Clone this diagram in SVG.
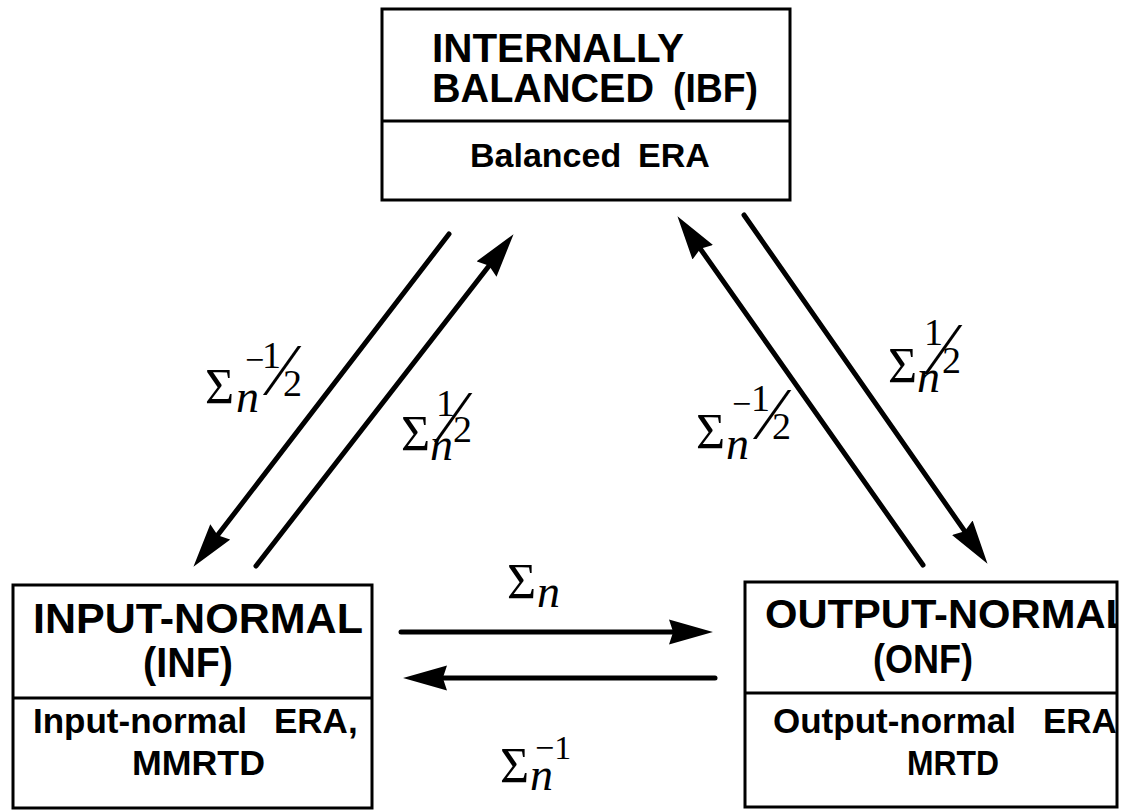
<svg xmlns="http://www.w3.org/2000/svg" width="1130" height="811" viewBox="0 0 1130 811">
<style>
.box{fill:#fff;stroke:#000;stroke-width:3}
.div{stroke:#000;stroke-width:3}
.h{font-family:"Liberation Sans",Arial,sans-serif;font-weight:bold;fill:#000}
.m{font-family:"Liberation Serif","Times New Roman",serif;fill:#000}
.it{font-style:italic}
.conn{stroke:#000;stroke-width:5;fill:none;stroke-linecap:round}
</style>
<defs>
<marker id="ah" markerUnits="userSpaceOnUse" markerWidth="44" markerHeight="26" viewBox="0 0 42 24" refX="22" refY="12" orient="auto">
<path d="M0,0 L42,12 L0,24 L4,12 z" fill="#000"/>
</marker>
<clipPath id="onfclip"><rect x="745" y="582" width="371" height="225"/></clipPath>
</defs>

<g id="ibf">
<rect class="box" x="382" y="9" width="408" height="191"/>
<line class="div" x1="382" y1="121" x2="790" y2="121"/>
<text class="h" font-size="40" x="432" y="62" textLength="252" lengthAdjust="spacingAndGlyphs">INTERNALLY</text>
<text class="h" font-size="40" y="102"><tspan x="432" textLength="222" lengthAdjust="spacingAndGlyphs">BALANCED</tspan><tspan x="673" textLength="85" lengthAdjust="spacingAndGlyphs">(IBF)</tspan></text>
<text class="h" font-size="34" y="167"><tspan x="470">Balanced</tspan><tspan x="638">ERA</tspan></text>
</g>

<g id="inf">
<rect class="box" x="13" y="585" width="359" height="223"/>
<line class="div" x1="13" y1="698" x2="372" y2="698"/>
<text class="h" font-size="42" x="33" y="633" textLength="330" lengthAdjust="spacingAndGlyphs">INPUT-NORMAL</text>
<text class="h" font-size="42" x="143" y="677" textLength="90" lengthAdjust="spacingAndGlyphs">(INF)</text>
<text class="h" font-size="35" y="733"><tspan x="33">Input-normal</tspan><tspan x="274">ERA,</tspan></text>
<text class="h" font-size="35" x="132" y="775" textLength="133" lengthAdjust="spacingAndGlyphs">MMRTD</text>
</g>

<g id="onf">
<rect class="box" x="745" y="582" width="372" height="225"/>
<line class="div" x1="745" y1="693" x2="1117" y2="693"/>
<g clip-path="url(#onfclip)">
<text class="h" font-size="40" x="765" y="628" textLength="366" lengthAdjust="spacingAndGlyphs">OUTPUT-NORMAL</text>
<text class="h" font-size="40" x="873" y="673" textLength="100" lengthAdjust="spacingAndGlyphs">(ONF)</text>
<text class="h" font-size="35" y="733"><tspan x="773">Output-normal</tspan><tspan x="1043">ERA,</tspan></text>
<text class="h" font-size="35" x="907" y="775" textLength="92" lengthAdjust="spacingAndGlyphs">MRTD</text>
</g>
</g>

<g id="connectors">
<path class="conn" d="M449,234 L206.2,550.1" marker-end="url(#ah)"/>
<path class="conn" d="M256,566 L500.7,250.8" marker-end="url(#ah)"/>
<path class="conn" d="M923,565 L689.5,233.4" marker-end="url(#ah)"/>
<path class="conn" d="M744,215 L975.5,546.6" marker-end="url(#ah)"/>
<path class="conn" d="M401,632 L692,632" marker-end="url(#ah)"/>
<path class="conn" d="M715,678 L424,678" marker-end="url(#ah)"/>
</g>

<g id="labels">
<text class="m"><tspan x="205" y="403" font-size="50">Σ</tspan><tspan class="it" x="236" y="412" font-size="46">n</tspan><tspan x="245" y="371" font-size="34">−</tspan><tspan x="262" y="368" font-size="38">1</tspan><tspan x="276" y="395" font-size="74">⁄</tspan><tspan x="283" y="396" font-size="38">2</tspan></text>
<text class="m"><tspan x="401" y="450" font-size="50">Σ</tspan><tspan class="it" x="430" y="460" font-size="46">n</tspan><tspan x="436" y="416" font-size="38">1</tspan><tspan x="447" y="442" font-size="74">⁄</tspan><tspan x="453" y="442" font-size="38">2</tspan></text>
<text class="m"><tspan x="888" y="382" font-size="50">Σ</tspan><tspan class="it" x="917" y="392" font-size="46">n</tspan><tspan x="924" y="345" font-size="38">1</tspan><tspan x="937" y="374" font-size="74">⁄</tspan><tspan x="942" y="373" font-size="38">2</tspan></text>
<text class="m"><tspan x="696" y="448" font-size="50">Σ</tspan><tspan class="it" x="726" y="459" font-size="46">n</tspan><tspan x="732" y="415" font-size="34">−</tspan><tspan x="751" y="411" font-size="38">1</tspan><tspan x="766" y="439" font-size="74">⁄</tspan><tspan x="772" y="439" font-size="38">2</tspan></text>
<text class="m"><tspan x="507" y="598" font-size="50">Σ</tspan><tspan class="it" x="537" y="607" font-size="46">n</tspan></text>
<text class="m"><tspan x="500" y="782" font-size="50">Σ</tspan><tspan class="it" x="530" y="790" font-size="46">n</tspan><tspan x="535" y="759" font-size="34">−1</tspan></text>
</g>
</svg>
